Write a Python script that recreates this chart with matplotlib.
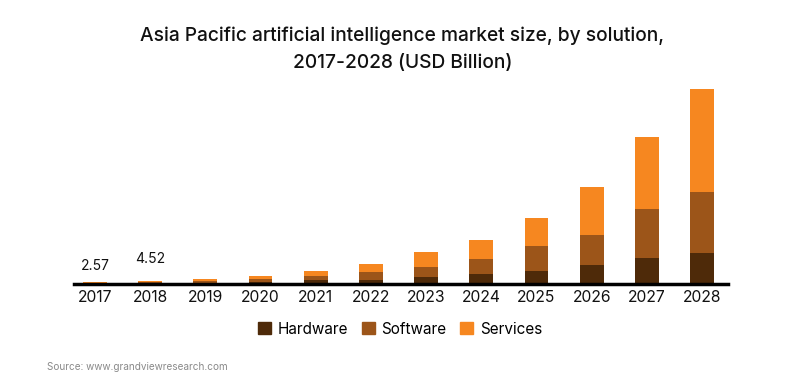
import numpy as np
import matplotlib
matplotlib.use("Agg")
import matplotlib.pyplot as plt
from matplotlib.patches import Patch

plt.rcParams['font.family'] = ['Inter', 'DejaVu Sans']

# values (USD Billion)
years = ['2017', '2018', '2019', '2020', '2021', '2022',
         '2023', '2024', '2025', '2026', '2027', '2028']
hardware = [0.70, 1.20, 1.9, 3.0, 6.0, 6.0, 9.9, 13.4, 17.3, 25.1, 34.2, 40.7]
software = [0.90, 1.60, 2.3, 3.9, 5.2, 10.0, 12.6, 19.5, 32.5, 39.0, 63.7, 79.3]
services = [0.97, 1.72, 2.4, 4.3, 6.5, 9.5, 18.6, 24.7, 36.4, 62.4, 93.6, 133.9]
labelled = {0: '2.57', 1: '4.52'}

c_hw = '#4E2A09'
c_sw = '#9C5519'
c_sv = '#F68720'

fig = plt.figure(figsize=(8, 3.85), dpi=100)
ax = fig.add_axes([0.0925, 0.262, 0.8175, 0.53])

x = np.arange(len(years))
w = 0.43
hw = np.array(hardware)
sw = np.array(software)
sv = np.array(services)

ax.bar(x, hw, w, color=c_hw)
ax.bar(x, sw, w, bottom=hw, color=c_sw)
ax.bar(x, sv, w, bottom=hw + sw, color=c_sv)

#data labels on the first two bars only
offsets = {0: 11.5, 1: 15.5}
tot = hw + sw + sv
for i, txt in labelled.items():
    ax.annotate(txt, (x[i], tot[i]), xytext=(0, offsets[i]), textcoords='offset points',
                ha='center', va='center', fontsize=10, color='#111111')

ax.set_xlim(-0.38, 11.47)
ax.set_ylim(0, 265)
ax.set_xticks(x)
ax.set_xticklabels(years, fontsize=11.3, color='#111111')
ax.tick_params(axis='x', length=0, pad=4)
ax.set_yticks([])
for s in ['top', 'right', 'left']:
    ax.spines[s].set_visible(False)
ax.spines['bottom'].set_linewidth(2.5)
ax.spines['bottom'].set_color('#000000')

fig.text(0.503, 0.907, 'Asia Pacific artificial intelligence market size, by solution,',
         ha='center', va='center', fontsize=13.8, fontweight='medium', color='#111111')
fig.text(0.503, 0.837, '2017-2028 (USD Billion)',
         ha='center', va='center', fontsize=13.8, fontweight='medium', color='#111111')

handles = [Patch(color=c_hw, label='Hardware'),
           Patch(color=c_sw, label='Software'),
           Patch(color=c_sv, label='Services')]
fig.legend(handles=handles, loc='center', bbox_to_anchor=(0.5, 0.145), ncol=3,
           frameon=False, fontsize=11, handlelength=0.85, handleheight=0.85,
           handletextpad=0.45, columnspacing=0.9)

fig.text(0.059, 0.047, 'Source: www.grandviewresearch.com', ha='left', va='center',
         fontsize=7.2, color='#8a8a8a')

fig.savefig('out.png', dpi=100)
